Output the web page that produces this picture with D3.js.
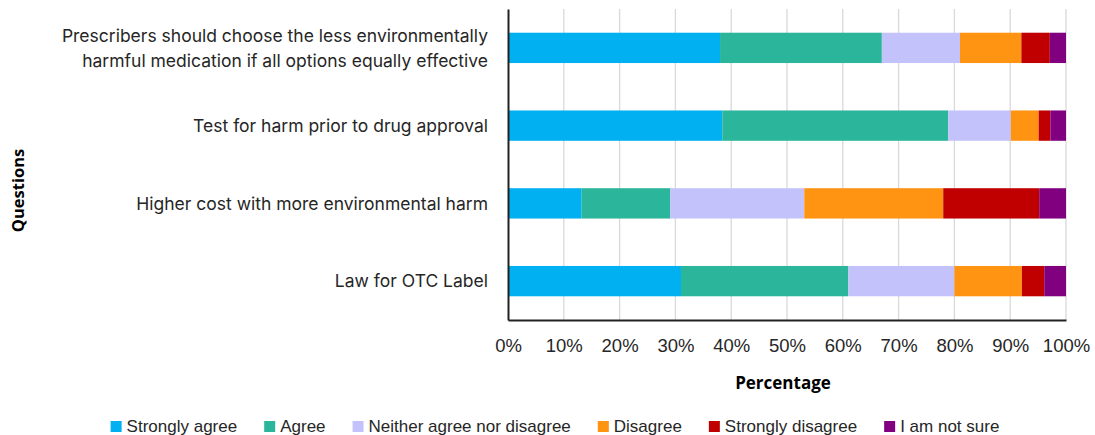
<!DOCTYPE html>
<html>
<head>
<meta charset="utf-8">
<script src="https://cdn.jsdelivr.net/npm/d3@7"></script>
<style>
  html, body { margin: 0; padding: 0; background: #fff; }
  svg { display: block; }
</style>
</head>
<body>
<svg id="chart" width="1095" height="435"></svg>
<script>
// Survey questions (top to bottom)
const questions = [
  "Prescribers should choose the less environmentally\nharmful medication if all options equally effective",
  "Test for harm prior to drug approval",
  "Higher cost with more environmental harm",
  "Law for OTC Label"
];
// Response categories and their colours
const responses = ["Strongly agree", "Agree", "Neither agree nor disagree", "Disagree", "Strongly disagree", "I am not sure"];
const colors = ["#00B0F0", "#2BB59A", "#C3C2FB", "#FF9312", "#C00000", "#800080"];
// Percent of respondents per response, one array per question
const stronglyAgree = [38, 38.4, 13.2, 31];
const agree         = [29, 40.5, 15.9, 30];
const neither       = [14, 11.2, 24, 19];
const disagree      = [11, 5, 24.9, 12.1];
const stronglyDis   = [5.1, 2.1, 17.2, 4];
const notSure       = [2.9, 2.8, 4.8, 3.9];
const tickValues = [0, 10, 20, 30, 40, 50, 60, 70, 80, 90, 100];

const seriesValues = [stronglyAgree, agree, neither, disagree, stronglyDis, notSure];
const rows = questions.map((q, i) => {
  const r = { question: q };
  responses.forEach((k, j) => r[k] = seriesValues[j][i]);
  return r;
});

const svg = d3.select("#chart");
const margin = { left: 508, right: 29, top: 9, bottom: 115 };
const W = 1095, H = 435;
const plotW = W - margin.left - margin.right;
const plotH = H - margin.top - margin.bottom;

const x = d3.scaleLinear().domain([0, 100]).range([margin.left, margin.left + plotW]);
const y = d3.scaleBand().domain(questions).range([margin.top, margin.top + plotH])
  .paddingInner(0.61).paddingOuter(0.305);

const stack = d3.stack().keys(responses);
const series = stack(rows);
const color = d3.scaleOrdinal().domain(responses).range(colors);

// gridlines
svg.append("g")
  .selectAll("line")
  .data(tickValues.filter(d => d > 0))
  .join("line")
  .attr("x1", d => x(d)).attr("x2", d => x(d))
  .attr("y1", margin.top).attr("y2", margin.top + plotH)
  .attr("stroke", "#d9d9d9").attr("stroke-width", 1.3);

// bars
svg.append("g")
  .selectAll("g")
  .data(series)
  .join("g")
  .attr("fill", d => color(d.key))
  .selectAll("rect")
  .data(d => d)
  .join("rect")
  .attr("x", d => x(d[0]))
  .attr("width", d => x(d[1]) - x(d[0]))
  .attr("y", d => y(d.data.question))
  .attr("height", y.bandwidth());

// x axis
const xAxis = d3.axisBottom(x).tickValues(tickValues).tickFormat(d => d + "%").tickSize(0).tickPadding(19);
const gx = svg.append("g").attr("transform", `translate(0,${margin.top + plotH})`).call(xAxis);
gx.select(".domain").attr("stroke", "#222").attr("stroke-width", 2);
gx.selectAll("text").attr("font-family", "Liberation Sans, Arial, sans-serif")
  .attr("font-size", 18.5).attr("fill", "#262626");

// y axis
const yAxis = d3.axisLeft(y).tickSize(0).tickFormat("");
const gy = svg.append("g").attr("transform", `translate(${margin.left},0)`).call(yAxis);
gy.select(".domain").attr("stroke", "#222").attr("stroke-width", 2);

// category labels (multi-line)
const labelG = svg.append("g")
  .attr("font-family", "Inter, Open Sans, sans-serif")
  .attr("font-size", 17.5).attr("fill", "#262626").attr("text-anchor", "end");
questions.forEach(q => {
  const lines = q.split("\n");
  const cy = y(q) + y.bandwidth() / 2;
  const lh = 25;
  const t = labelG.append("text").attr("x", margin.left - 20);
  lines.forEach((ln, i) => {
    t.append("tspan").attr("x", margin.left - 20)
      .attr("y", cy + (i - (lines.length - 1) / 2) * lh)
      .attr("dy", "0.35em").text(ln);
  });
});

// axis titles
svg.append("text")
  .attr("x", x(50) - 4).attr("y", 389)
  .attr("text-anchor", "middle")
  .attr("font-family", "Open Sans, sans-serif").attr("font-weight", "bold")
  .attr("font-size", 17).attr("fill", "#000").text("Percentage");

svg.append("text")
  .attr("transform", `translate(24,${margin.top + plotH / 2 + 26}) rotate(-90)`)
  .attr("text-anchor", "middle")
  .attr("font-family", "Open Sans, sans-serif").attr("font-weight", "bold")
  .attr("font-size", 16.5).attr("fill", "#000").text("Questions");

// legend
const legend = svg.append("g")
  .attr("font-family", "Liberation Sans, Arial, sans-serif")
  .attr("font-size", 17).attr("fill", "#262626");
const items = [];
responses.forEach((r, i) => {
  const g = legend.append("g");
  g.append("rect").attr("x", 0).attr("y", -11).attr("width", 11).attr("height", 11).attr("fill", colors[i]);
  const t = g.append("text").attr("x", 16).attr("y", 0).text(r);
  const w = 16 + t.node().getComputedTextLength();
  items.push({ g, w });
});
const gap = 27;
const total = d3.sum(items, d => d.w) + gap * (items.length - 1);
let lx = (112 + 998) / 2 - total / 2;
items.forEach(it => {
  it.g.attr("transform", `translate(${lx},432)`);
  lx += it.w + gap;
});
</script>
</body>
</html>
